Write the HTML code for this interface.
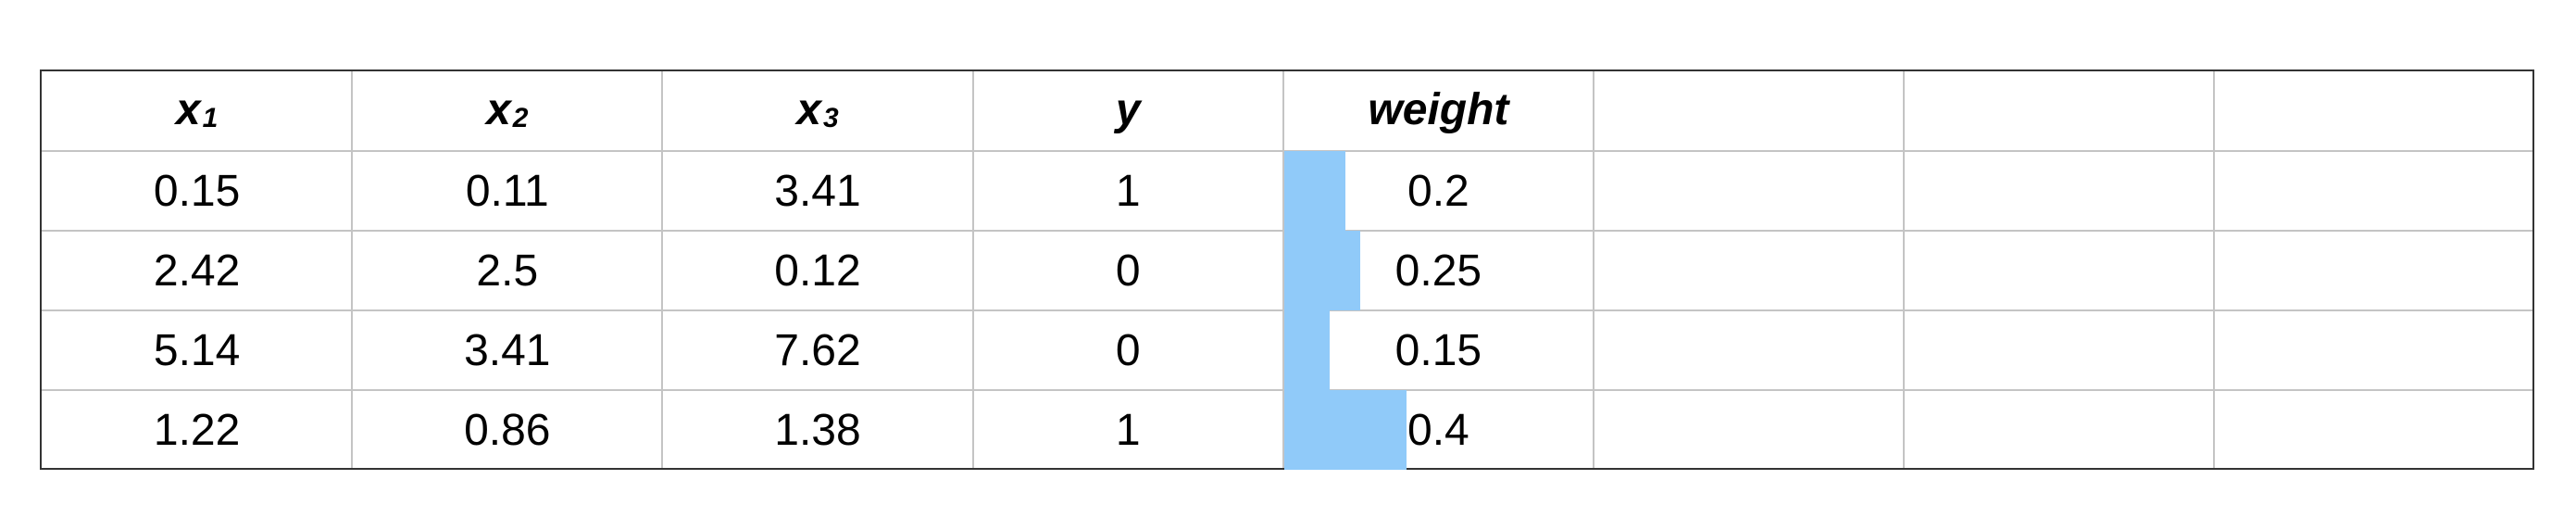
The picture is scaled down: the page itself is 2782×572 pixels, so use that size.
<!DOCTYPE html>
<html><head><meta charset="utf-8"><style>
body{margin:0;background:#fff;width:2782px;height:572px;overflow:hidden;font-family:"Liberation Sans",sans-serif}
#t{position:absolute;left:43px;top:75px;width:2694px;height:432px;border:2px solid #333;box-sizing:border-box}
.c{position:absolute;display:flex;align-items:center;justify-content:center;font-size:48px;color:#000;box-sizing:border-box}
.h{font-weight:bold;font-style:italic}
.vl{position:absolute;top:0;bottom:0;width:2px;background:#c4c4c4}
.hl{position:absolute;left:0;right:0;height:2px;background:#c4c4c4}
.bar{position:absolute;background:#90caf9}
.s{font-size:30px;position:relative;top:10px;margin-left:2px}
</style></head><body>
<div id="t"></div>
<script>
const headers=['x<span class="s">1</span>','x<span class="s">2</span>','x<span class="s">3</span>','y','weight','','',''];
const x1=['0.15','2.42','5.14','1.22'];
const x2=['0.11','2.5','3.41','0.86'];
const x3=['3.41','0.12','7.62','1.38'];
const yv=['1','0','0','1'];
const weight=[0.2,0.25,0.15,0.4];
const t=document.getElementById('t');
const W=335.2, HH=86, RH=86;
const wScale=v=>v*330;
for(let i=1;i<8;i++){const l=document.createElement('div');l.className='vl';l.style.left=(i*W-1)+'px';

t.appendChild(l);}
for(let r=0;r<4;r++){const l=document.createElement('div');l.className='hl';l.style.top=(HH+r*RH-1)+'px';

t.appendChild(l);}
weight.forEach((v,r)=>{const b=document.createElement('div');b.className='bar';
b.style.left=(4*W+1)+'px';b.style.top=(HH+r*RH)+'px';b.style.height=RH+'px';b.style.width=wScale(v)+'px';

t.appendChild(b);});
function cell(html,col,top,h,cls,name){const d=document.createElement('div');d.className='c '+cls;
d.style.left=(col*W)+'px';d.style.width=W+'px';d.style.top=top+'px';d.style.height=h+'px';d.innerHTML=html;

t.appendChild(d);}
headers.forEach((h,i)=>{if(h)cell(h,i,-2,HH,'h','column-header');});
const cols=[x1,x2,x3,yv,weight.map(String)];
cols.forEach((arr,c)=>arr.forEach((v,r)=>cell(v,c,HH+r*RH,RH,'','table-cell')));
</script>
</body></html>
